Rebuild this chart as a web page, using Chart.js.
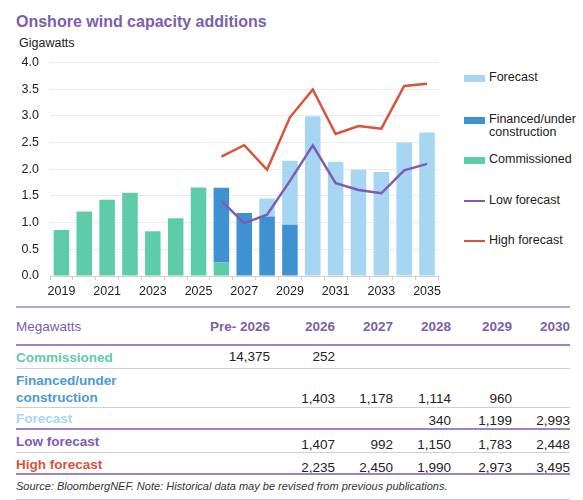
<!DOCTYPE html>
<html>
<head>
<meta charset="utf-8">
<script src="https://cdn.jsdelivr.net/npm/chart.js@4.4.1/dist/chart.umd.min.js"></script>
<style>
  body { margin: 0; background: #fff; font-family: "Liberation Sans", Arial, sans-serif; }
  #wrap { position: relative; width: 583px; height: 500px; overflow: hidden; }
  .t { position: absolute; white-space: nowrap; line-height: 1; }
  .title { left: 16px; top: 14px; font-size: 16px; font-weight: bold; color: #7a5fae; }
  .unit { left: 19px; top: 37px; font-size: 12.5px; color: #222; }
  #chart { position: absolute; left: 0; top: 44px; }
  .lg { position: absolute; left: 464px; font-size: 12.5px; color: #222; }
  .lg i { position: absolute; left: 0; width: 21px; }
  .lg span { position: absolute; left: 25px; white-space: nowrap; line-height: 13px; }
  .hl { position: absolute; left: 16px; width: 554px; }
  .cell { position: absolute; white-space: nowrap; font-size: 13.5px; line-height: 1; }
  .src { left: 16px; top: 481px; font-size: 11px; font-style: italic; color: #333; }
</style>
</head>
<body>
<div id="wrap">
  <div class="t title">Onshore wind capacity additions</div>
  <div class="t unit">Gigawatts</div>
  <canvas id="chart" width="445" height="258"></canvas>
  <div id="legend"></div>
  <div id="table"></div>
  <div class="t src">Source: BloombergNEF. Note: Historical data may be revised from previous publications.</div>
</div>
<script>
// chart data, gigawatts
const years = ['2019', '2020', '2021', '2022', '2023', '2024', '2025', '2026', '2027',
  '2028', '2029', '2030', '2031', '2032', '2033', '2034', '2035'];
const commissioned = [0.86, 1.21, 1.43, 1.56, 0.84, 1.08, 1.66, 0.252,
  null, null, null, null, null, null, null, null, null];
const financed = [null, null, null, null, null, null, null, 1.403, 1.178, 1.114, 0.960,
  null, null, null, null, null, null];
const forecast = [null, null, null, null, null, null, null, null, null,
  0.340, 1.199, 2.993, 2.14, 1.99, 1.95, 2.50, 2.69];
const lowForecast = [null, null, null, null, null, null, null,
  1.407, 0.992, 1.150, 1.783, 2.448, 1.74, 1.61, 1.55, 1.98, 2.10];
const highForecast = [null, null, null, null, null, null, null,
  2.235, 2.450, 1.990, 2.973, 3.495, 2.66, 2.81, 2.76, 3.56, 3.60];
const yTicks = [0, 0.5, 1, 1.5, 2, 2.5, 3, 3.5, 4];

// table data, megawatts
const tableCols = ['Pre- 2026', '2026', '2027', '2028', '2029', '2030'];
const mwCommissioned = [14375, 252, null, null, null, null];
const mwFinanced = [null, 1403, 1178, 1114, 960, null];
const mwForecast = [null, null, null, 340, 1199, 2993];
const mwLow = [null, 1407, 992, 1150, 1783, 2448];
const mwHigh = [null, 2235, 2450, 1990, 2973, 3495];

const C_COMM = '#5ecba9';
const C_FIN = '#3f92d2';
const C_FC = '#a7d6f2';
const C_LOW = '#7c5cb4';
const C_HIGH = '#d9533a';
const C_HEAD = '#7a5fae';

new Chart(document.getElementById('chart'), {
  type: 'bar',
  data: {
    labels: years,
    datasets: [
      { type: 'line', label: 'High forecast', data: highForecast, borderColor: C_HIGH,
        borderWidth: 2.5, pointRadius: 0, stack: 'high', order: 0, tension: 0 },
      { type: 'line', label: 'Low forecast', data: lowForecast, borderColor: C_LOW,
        borderWidth: 2.5, pointRadius: 0, stack: 'low', order: 0, tension: 0 },
      { label: 'Commissioned', data: commissioned, backgroundColor: C_COMM, stack: 'bars', order: 1 },
      { label: 'Financed/under construction', data: financed, backgroundColor: C_FIN, stack: 'bars', order: 1 },
      { label: 'Forecast', data: forecast, backgroundColor: C_FC, stack: 'bars', order: 1 }
    ]
  },
  options: {
    responsive: false,
    animation: false,
    barPercentage: 0.68,
    categoryPercentage: 1,
    layout: { padding: { top: 6, right: 2, left: 0, bottom: 0 } },
    plugins: { legend: { display: false }, tooltip: { enabled: false } },
    scales: {
      x: {
        stacked: true,
        grid: { drawOnChartArea: false, drawTicks: true, tickLength: 4, color: '#cfcfcf', offset: true },
        border: { color: '#cfcfcf' },
        ticks: {
          autoSkip: false, maxRotation: 0, padding: 4, color: '#222',
          font: { family: '"Liberation Sans", Arial, sans-serif', size: 12.5 },
          callback: (v, i) => (i % 2 === 0 ? years[i] : '')
        },
        afterFit: s => { s.height = 26; }
      },
      y: {
        stacked: true,
        min: 0,
        max: 4,
        afterBuildTicks: s => { s.ticks = yTicks.map(v => ({ value: v })); },
        ticks: {
          padding: 11, color: '#222',
          font: { family: '"Liberation Sans", Arial, sans-serif', size: 12.5 },
          callback: v => v.toFixed(1)
        },
        grid: { color: '#ebebeb', drawTicks: false },
        border: { display: false },
        afterFit: s => { s.width = 50; }
      }
    }
  }
});

// legend
const legendItems = [
  { text: 'Forecast', color: C_FC, kind: 'bar', y: 78 },
  { text: 'Financed/under<br>construction', color: C_FIN, kind: 'bar', y: 120 },
  { text: 'Commissioned', color: C_COMM, kind: 'bar', y: 160 },
  { text: 'Low forecast', color: C_LOW, kind: 'line', y: 201 },
  { text: 'High forecast', color: C_HIGH, kind: 'line', y: 241 }
];
const legend = document.getElementById('legend');
legendItems.forEach(it => {
  const h = it.kind === 'bar' ? 7 : 2.5;
  legend.insertAdjacentHTML('beforeend',
    `<div class="lg" style="top:${it.y}px"><i style="top:${-h / 2}px;height:${h}px;background:${it.color}"></i>` +
    `<span style="top:-7px">${it.text}</span></div>`);
});

// table
const table = document.getElementById('table');
const colRight = [270, 335, 393, 451, 512, 570];
const fmt = v => (v == null ? '' : v.toLocaleString('en-US'));
function line(y, color, h) {
  table.insertAdjacentHTML('beforeend',
    `<div class="hl" style="top:${y - h / 2}px;height:${h}px;background:${color}"></div>`);
}
function cell(text, x, yc, style, right) {
  const pos = right ? `right:${583 - x}px` : `left:${x}px`;
  table.insertAdjacentHTML('beforeend',
    `<div class="cell" style="${pos};top:${yc - 7}px;${style}">${text}</div>`);
}
line(307, '#b3a4d3', 2);
cell('Megawatts', 16, 327, `color:${C_HEAD}`);
tableCols.forEach((c, i) => cell(c, colRight[i], 327, `color:${C_HEAD};font-weight:bold`, true));
line(345, '#9a85c6', 2.5);

const rows = [
  { label: 'Commissioned', color: C_COMM, vals: mwCommissioned, labelY: 357, valY: 357, bottom: 368, lc: '#d0d0d0', lh: 1 },
  { label: 'Financed/under<br>construction', color: '#4a9ad6', vals: mwFinanced, labelY: 380, valY: 399, bottom: 407, lc: '#d0d0d0', lh: 1 },
  { label: 'Forecast', color: C_FC, vals: mwForecast, labelY: 418, valY: 421, bottom: 429, lc: '#9a85c6', lh: 2 },
  { label: 'Low forecast', color: C_LOW, vals: mwLow, labelY: 441, valY: 445, bottom: 452, lc: '#d0d0d0', lh: 1 },
  { label: 'High forecast', color: C_HIGH, vals: mwHigh, labelY: 464, valY: 468, bottom: 474, lc: '#9a85c6', lh: 2 }
];
rows.forEach(r => {
  cell(r.label, 16, r.labelY, `color:${r.color};font-weight:bold;line-height:17px;top:${r.labelY - 8}px`);
  r.vals.forEach((v, i) => cell(fmt(v), colRight[i], r.valY, 'color:#222', true));
  line(r.bottom, r.lc, r.lh);
});
line(499, '#cdc6dd', 1);
</script>
</body>
</html>
